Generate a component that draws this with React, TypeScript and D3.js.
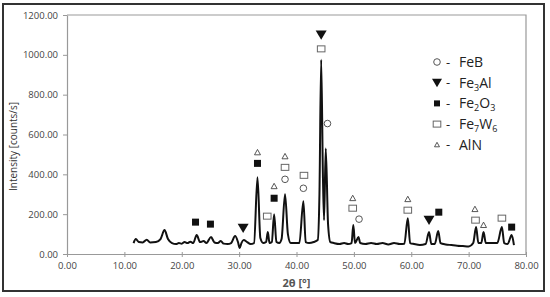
import React, { useEffect, useRef } from "react";
import * as d3 from "d3";

const W = 550;
const H = 297;

const xTicks = [0, 10, 20, 30, 40, 50, 60, 70, 80];
const yTicks = [0, 200, 400, 600, 800, 1000, 1200];

// 2theta, intensity
const pattern: [number, number][] = [
  [11.6, 55], [12.0, 75], [12.5, 60], [13.2, 58], [13.9, 72], [14.5, 58], [15.5, 60],
  [16.3, 75], [17.0, 120], [17.6, 75], [18.3, 55], [19.0, 50], [19.5, 55], [20.0, 52],
  [20.5, 60], [21.0, 55], [21.5, 62], [22.0, 55], [22.6, 95], [23.2, 60], [23.8, 65],
  [24.3, 55], [25.1, 85], [25.7, 58], [26.3, 55], [26.8, 65], [27.3, 52], [28.0, 50],
  [28.6, 55], [29.3, 90], [29.8, 60], [30.1, 30], [30.4, 55], [30.8, 70], [31.4, 60],
  [32.0, 50], [32.6, 55], [33.2, 385], [33.7, 80], [34.2, 55], [34.7, 60], [35.0, 110],
  [35.3, 55], [35.7, 60], [36.1, 200], [36.5, 60], [37.0, 55], [37.4, 75], [38.0, 300],
  [38.5, 100], [39.0, 55], [39.8, 55], [40.5, 55], [41.2, 265], [41.6, 60], [42.2, 55],
  [43.0, 60], [43.7, 70], [44.0, 300], [44.3, 975], [44.6, 400], [44.8, 170], [45.1, 530],
  [45.5, 150], [45.9, 60], [46.5, 55], [47.5, 50], [48.3, 55], [49.0, 50], [49.6, 55],
  [49.9, 145], [50.2, 55], [50.8, 85], [51.1, 55], [52.0, 50], [53.0, 55], [54.0, 50],
  [55.0, 55], [56.0, 48], [57.0, 55], [58.0, 50], [58.8, 52], [59.4, 180], [59.8, 55],
  [60.5, 50], [61.5, 45], [62.5, 50], [63.1, 110], [63.5, 50], [64.1, 50], [64.7, 115],
  [65.1, 55], [66.0, 48], [67.0, 45], [68.0, 42], [69.0, 40], [70.0, 38], [70.8, 55],
  [71.3, 135], [71.7, 55], [72.2, 55], [72.6, 110], [73.0, 55], [74.0, 55], [75.0, 55],
  [75.8, 135], [76.2, 55], [76.8, 50], [77.5, 95], [77.9, 45]
];

// phase markers (2theta, height of marker)
const feB: [number, number][] = [[38.0, 375], [41.2, 330], [45.4, 655], [50.9, 175]];
const fe3Al: [number, number][] = [[30.7, 130], [44.3, 1100], [63.1, 170]];
const fe2O3: [number, number][] = [[22.4, 160], [25.0, 150], [33.2, 455], [36.1, 280], [64.8, 210], [77.5, 135]];
const fe7W6: [number, number][] = [[34.9, 190], [38.0, 435], [41.3, 395], [44.3, 1030], [49.8, 230], [59.4, 220], [71.2, 170], [75.8, 180]];
const alN: [number, number][] = [[33.2, 510], [36.1, 340], [38.0, 490], [49.8, 280], [59.4, 275], [71.1, 225], [72.6, 145]];

const legendItems = [
  { key: "FeB", parts: [["Fe", false], ["B", false]] },
  { key: "Fe3Al", parts: [["Fe", false], ["3", true], ["Al", false]] },
  { key: "Fe2O3", parts: [["Fe", false], ["2", true], ["O", false], ["3", true]] },
  { key: "Fe7W6", parts: [["Fe", false], ["7", true], ["W", false], ["6", true]] },
  { key: "AlN", parts: [["AlN", false]] }
];

const FONT = "'Open Sans', 'Noto Sans', sans-serif";

function drawMarker(g: any, kind: string, x: number, y: number, big = false) {
  if (kind === "FeB") {
    g.append("circle").attr("cx", x).attr("cy", y).attr("r", 3.3)
      .attr("fill", "white").attr("stroke", "#555").attr("stroke-width", 1);
  } else if (kind === "Fe3Al") {
    const s = big ? 5 : 5.5;
    g.append("path").attr("d", `M${x - s},${y - s * 0.8}L${x + s},${y - s * 0.8}L${x},${y + s * 0.9}Z`)
      .attr("fill", "#111");
  } else if (kind === "Fe2O3") {
    const s = big ? 3 : 3.5;
    g.append("rect").attr("x", x - s).attr("y", y - s).attr("width", s * 2).attr("height", s * 2)
      .attr("fill", "#111");
  } else if (kind === "Fe7W6") {
    g.append("rect").attr("x", x - 3.8).attr("y", y - 3).attr("width", 7.6).attr("height", 6)
      .attr("fill", "white").attr("stroke", "#666").attr("stroke-width", 1);
  } else {
    const s = big ? 2.5 : 3;
    g.append("path").attr("d", `M${x},${y - s}L${x + s},${y + s * 0.8}L${x - s},${y + s * 0.8}Z`)
      .attr("fill", "white").attr("stroke", "#444").attr("stroke-width", 0.9);
  }
}

export default function App() {
  const ref = useRef<SVGSVGElement>(null);

  useEffect(() => {
    const svg = d3.select(ref.current);
    svg.selectAll("*").remove();

    const left = 67, right = 526, top = 15, bottom = 254;
    const x = d3.scaleLinear().domain([0, 80]).range([left, right]);
    const y = d3.scaleLinear().domain([0, 1200]).range([bottom, top]);

    // outer frame
    svg.append("rect").attr("x", 3).attr("y", 4).attr("width", 541).attr("height", 287)
      .attr("fill", "white").attr("stroke", "#333").attr("stroke-width", 2);

    // plot frame (top/right)
    svg.append("path").attr("d", `M${left},${top}H${right}V${bottom}`)
      .attr("fill", "none").attr("stroke", "#999").attr("stroke-width", 1.2);

    const xAxis = svg.append("g").attr("transform", `translate(0,${bottom})`)
      .call(d3.axisBottom(x).tickValues(xTicks).tickFormat((d: any) => d3.format(".2f")(d)).tickSize(4).tickSizeOuter(0));
    const yAxis = svg.append("g").attr("transform", `translate(${left},0)`)
      .call(d3.axisLeft(y).tickValues(yTicks).tickFormat((d: any) => d3.format(".2f")(d)).tickSize(4).tickSizeOuter(0));

    [xAxis, yAxis].forEach((a) => {
      a.select(".domain").attr("stroke", "#999").attr("stroke-width", 1.2);
      a.selectAll(".tick line").attr("stroke", "#999");
      a.selectAll(".tick text").attr("fill", "#444").attr("font-family", FONT).attr("font-size", 9.5);
    });
    xAxis.selectAll(".tick line").attr("y1", -2).attr("y2", 3);
    xAxis.selectAll(".tick text").attr("dy", "0.71em").attr("y", 8);
    yAxis.selectAll(".tick text").attr("x", -9);

    // axis titles
    svg.append("text").attr("transform", `translate(17,${(top + bottom) / 2 + 12}) rotate(-90)`)
      .attr("text-anchor", "middle").attr("font-family", FONT).attr("font-size", 10).attr("fill", "#333")
      .text("Intensity [counts/s]");
    svg.append("text").attr("x", (left + right) / 2).attr("y", 287)
      .attr("text-anchor", "middle").attr("font-family", FONT).attr("font-size", 11)
      .attr("font-weight", "bold").attr("fill", "#555").text("2θ [°]");

    // pattern line
    const line = d3.line<[number, number]>().x((d) => x(d[0])).y((d) => y(d[1])).curve(d3.curveMonotoneX);
    svg.append("path").datum(pattern).attr("d", line as any)
      .attr("fill", "none").attr("stroke", "#111").attr("stroke-width", 2).attr("stroke-linejoin", "round");

    // phase markers
    const mg = svg.append("g");
    const sets: [string, [number, number][]][] = [
      ["FeB", feB], ["Fe3Al", fe3Al], ["Fe2O3", fe2O3], ["Fe7W6", fe7W6], ["AlN", alN]
    ];
    sets.forEach(([k, pts]) => pts.forEach((p) => drawMarker(mg, k, x(p[0]), y(p[1]))));

    // legend
    const lg = svg.append("g");
    legendItems.forEach((item, i) => {
      const ly = 62 + i * 20.7;
      drawMarker(lg, item.key, 437, ly, true);
      lg.append("text").attr("x", 446).attr("y", ly + 4.5).attr("font-family", FONT)
        .attr("font-size", 13).attr("fill", "#222").text("-");
      const t = lg.append("text").attr("x", 459).attr("y", ly + 5).attr("font-family", FONT)
        .attr("font-size", 14).attr("fill", "#222");
      item.parts.forEach(([s, sub]) => {
        if (sub) t.append("tspan").attr("font-size", 9).attr("dy", 3).text(s as string);
        else t.append("tspan").attr("dy", 0).text(s as string);
      });
      // reset baseline after subscripts
      let off = 0;
      t.selectAll("tspan").each(function (this: any, _d: any, j: number) {
        const sub = item.parts[j][1];
        const want = sub ? 3 : 0;
        d3.select(this).attr("dy", want - off);
        off = want;
      });
    });
  }, []);

  return (
    <svg ref={ref} width={W} height={H}
      style={{ position: "absolute", left: 0, top: 0, background: "white" }} />
  );
}
